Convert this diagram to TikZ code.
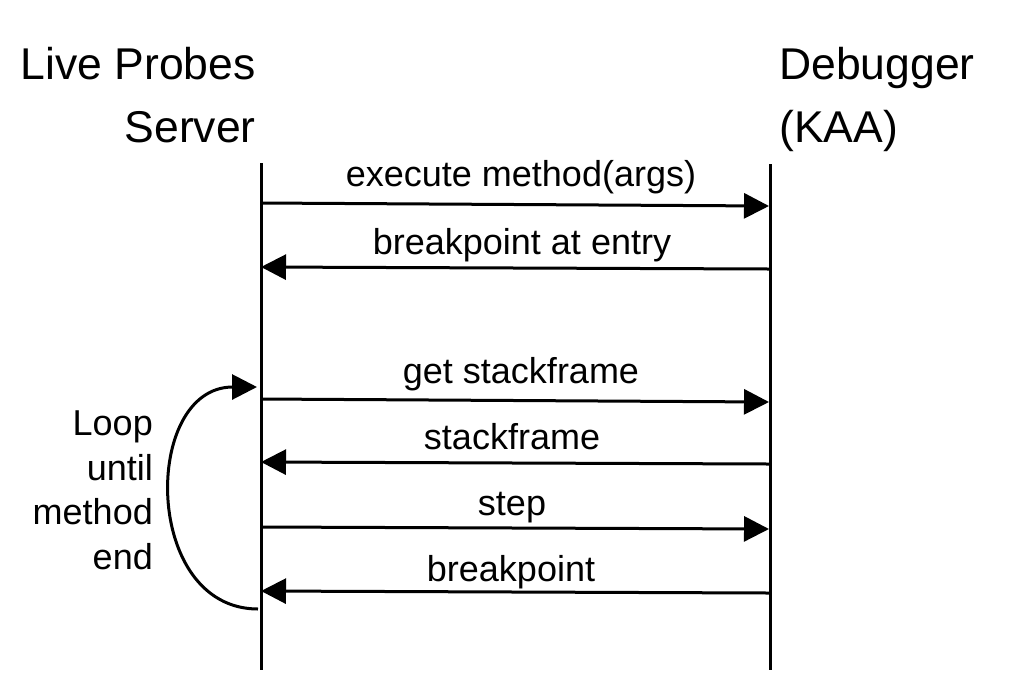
\documentclass[tikz,border=0pt]{standalone}
\usepackage{fontspec}
\setmainfont{Liberation Sans}
\usepackage{tikz}
\usetikzlibrary{arrows.meta}

\begin{document}
\begin{tikzpicture}[x=1pt,y=-1pt,
		life/.style={line width=3pt},
		msg/.style={line width=3pt,-{Triangle[length=25pt,width=25pt]}},
		lbl/.style={inner sep=0pt,anchor=base,font=\fontsize{36}{44.5}\selectfont},
		head/.style={inner sep=0pt,font=\fontsize{44.5}{63}\selectfont}]
			
			\useasboundingbox (0,0) rectangle (1032,694);
			
			% participants
			\node[head,anchor=base east,align=right] (srv) at (256,142) {Live Probes\\Server};
			\node[head,anchor=base west,align=left] (dbg) at (779,142) {Debugger\\(KAA)};
			
			% lifelines
			\coordinate (srvtop) at (261,163);
			\coordinate (srvbot) at (261,670);
			\coordinate (dbgtop) at (770,164);
			\coordinate (dbgbot) at (770,670);
			\draw[life] (srvtop) -- (srvbot);
			\draw[life] (dbgtop) -- (dbgbot);
			
			% points on the lifelines
			\coordinate (s1) at (261,203);  \coordinate (d1) at (769,206);
			\coordinate (s2) at (261,267);  \coordinate (d2) at (769,269);
			\coordinate (s3) at (261,399);  \coordinate (d3) at (769,402);
			\coordinate (s4) at (261,462);  \coordinate (d4) at (769,464);
			\coordinate (s5) at (261,527);  \coordinate (d5) at (769,529);
			\coordinate (s6) at (261,591);  \coordinate (d6) at (769,593);
			
			% messages
			\draw[msg] (s1) -- (d1);
			\node[lbl] (m1) at (521,186) {execute method(args)};
			\draw[msg] (d2) -- (s2);
			\node[lbl] (m2) at (522,254) {breakpoint at entry};
			\draw[msg] (s3) -- (d3);
			\node[lbl] (m3) at (521,383) {get stackframe};
			\draw[msg] (d4) -- (s4);
			\node[lbl] (m4) at (512,449) {stackframe};
			\draw[msg] (s5) -- (d5);
			\node[lbl] (m5) at (512,515) {step};
			\draw[msg] (d6) -- (s6);
			\node[lbl] (m6) at (511,581) {breakpoint};
			
			% loop back
			\coordinate (lpfrom) at (258,609);
			\coordinate (lpto) at (257,387);
			\draw[msg] (lpfrom) .. controls (142,609) and (142,387) .. (lpto);
			\node[lbl,anchor=base east,align=right] (loop) at (153,569) {Loop\\until\\method\\end};
			
		\end{tikzpicture}
\end{document}
